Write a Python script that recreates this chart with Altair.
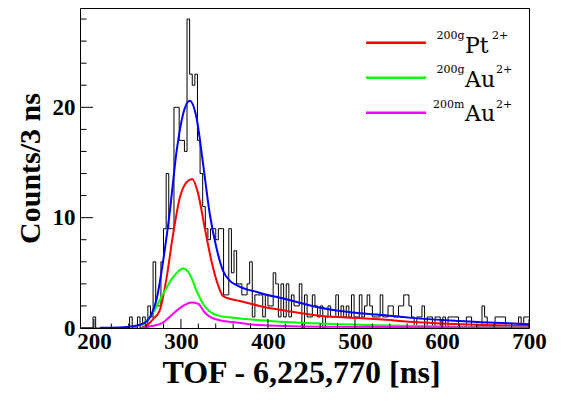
import altair as alt
import pandas as pd

# ---------------- data ----------------
bin_start = 184
bin_width = 3
x_end = 700
counts = [
    0, 0, 0, 0, 0, 1, 0, 0, 0, 0, 0, 0, 0, 0, 0, 0, 0, 0, 0, 1,
    0, 0, 1, 0, 1, 0, 2, 1, 6, 2, 2, 6, 9, 14, 9, 9, 20, 20, 17, 17,
    16, 28, 23, 22, 23, 17, 14, 11, 9, 8, 9, 9, 8, 9, 9, 3, 3, 9, 5, 7,
    4, 4, 3, 3, 4, 6, 1, 3, 3, 3, 1, 3, 2, 2, 5, 4, 1, 4, 1, 4,
    1, 3, 2, 2, 4, 0, 3, 1, 1, 3, 2, 1, 2, 0, 1, 2, 1, 1, 3, 1,
    2, 1, 2, 1, 3, 1, 1, 3, 1, 2, 3, 2, 1, 1, 1, 3, 1, 1, 2, 2,
    1, 1, 2, 2, 3, 3, 2, 1, 0, 1, 1, 2, 0, 1, 1, 0, 1, 1, 0, 1,
    0, 1, 1, 1, 1, 0, 0, 0, 1, 1, 0, 0, 0, 0, 2, 1, 0, 0, 0, 1,
    1, 1, 1, 0, 0, 0, 0, 0, 1, 0, 1, 1,
]

total_tof = [207, 230, 245, 253, 260.5, 266, 272, 279.6, 287, 295, 302.5, 310,
             317.8, 325.4, 333, 340.7, 348.3, 356, 365, 390, 421, 459, 497, 528,
             562, 620, 700]
total_val = [0.02, 0.05, 0.15, 0.3, 0.6, 1.2, 2.6, 6.1, 10.4, 16.0, 19.4, 20.6,
             19.1, 14.9, 10.4, 7.3, 5.2, 4.3, 3.85, 3.2, 2.6, 1.85, 1.4, 1.2,
             0.94, 0.64, 0.35]

pt_tof = [254.7, 262, 268, 275.7, 283.4, 291, 298.7, 306.3, 313, 319.7, 327.3,
          335, 342.6, 348.3, 358, 367.5, 390, 421, 459, 505, 528, 562, 620, 700]
pt_val = [0.0, 0.3, 0.8, 1.6, 4.5, 8.5, 11.8, 13.2, 13.5, 12.2, 9.1,
          6.1, 3.9, 2.9, 2.6, 2.45, 2.0, 1.55, 1.1, 0.9, 0.8, 0.57, 0.35, 0.2]

au_tof = [254.7, 261, 268, 279.6, 291, 302.5, 310, 317.8, 325.4, 333, 344.5,
          358, 402, 459, 528, 620, 700]
au_val = [0.2, 0.7, 1.4, 3.1, 4.6, 5.4, 4.9, 3.4, 2.2, 1.5, 1.1,
          0.95, 0.64, 0.4, 0.25, 0.12, 0.06]

aum_tof = [254.7, 265, 279.6, 291, 302.5, 312, 319.7, 327.3, 335, 344.5, 363.7,
           384, 459, 700]
aum_val = [0.0, 0.15, 0.5, 1.3, 2.0, 2.3, 2.2, 1.4, 0.94, 0.7, 0.5,
           0.3, 0.12, 0.04]

x_tick_labels = [200, 300, 400, 500, 600, 700]
x_minor = [t for t in range(220, 700, 20) if t % 100 != 0]
y_tick_labels = [0, 10, 20]
y_minor = [t for t in range(2, 29, 2) if t % 10 != 0]

legend_pre = ["200g", "200g", "200m"]
legend_main = ["Pt", "Au", "Au"]
legend_post = ["2+", "2+", "2+"]
legend_colors = ["#ff0000", "#00ff00", "#ff00ff"]

# ---------------- chart ----------------
W, H = 449, 320
FONT = "Liberation Serif"
LFONT = "DejaVu Serif"

edges = [bin_start + bin_width * i for i in range(len(counts))] + [x_end]
hist_df = pd.DataFrame({"tof": edges, "value": counts + [counts[-1]]})

xscale = alt.Scale(domain=[184, 700], nice=False, zero=False)
yscale = alt.Scale(domain=[0, 29], nice=False, zero=True)

xaxis = alt.Axis(values=x_tick_labels, ticks=False, domain=False, grid=False,
                 labelFont=FONT, labelFontSize=23, labelFontWeight="bold",
                 labelColor="black", labelPadding=2, labelFlush=False,
                 labelOverlap=False, titleFont=FONT, titleFontSize=32,
                 titleFontWeight="bold", titleColor="black", titlePadding=4,
                 titleX=221)
yaxis = alt.Axis(values=y_tick_labels, ticks=False, domain=False, grid=False,
                 labelFont=FONT, labelFontSize=23, labelFontWeight="bold",
                 labelColor="black", labelPadding=5, labelFlush=False,
                 labelOverlap=False, titleFont=FONT, titleFontSize=30,
                 titleFontWeight="bold", titleColor="black", titlePadding=7)

X = alt.X("tof:Q", scale=xscale, axis=xaxis, title="TOF - 6,225,770 [ns]")
Y = alt.Y("value:Q", scale=yscale, axis=yaxis, title="Counts/3 ns")

hist = alt.Chart(hist_df).mark_line(
    interpolate="step-after", color="black", strokeWidth=1, clip=True
).encode(x=X, y=Y)


def curve(tof, val, color):
    df = pd.DataFrame({"tof": tof, "value": val})
    return alt.Chart(df).mark_line(
        interpolate="monotone", color=color, strokeWidth=2, clip=True
    ).encode(x=X, y=Y)


c_pt = curve(pt_tof, pt_val, "#ff0000")
c_au = curve(au_tof, au_val, "#00ff00")
c_aum = curve(aum_tof, aum_val, "#ff00ff")
c_tot = curve(total_tof, total_val, "#0000ff")

xmaj = alt.Chart(pd.DataFrame({"tof": x_tick_labels})).mark_rule(
    color="black", strokeWidth=1).encode(x=X, y=alt.value(H), y2=alt.value(H - 9))
xmin = alt.Chart(pd.DataFrame({"tof": x_minor})).mark_rule(
    color="black", strokeWidth=1).encode(x=X, y=alt.value(H), y2=alt.value(H - 4.5))
ymaj = alt.Chart(pd.DataFrame({"value": y_tick_labels})).mark_rule(
    color="black", strokeWidth=1).encode(y=Y, x=alt.value(0), x2=alt.value(13))
ymin = alt.Chart(pd.DataFrame({"value": y_minor})).mark_rule(
    color="black", strokeWidth=1).encode(y=Y, x=alt.value(0), x2=alt.value(6.5))

layers = [hist, c_pt, c_au, c_aum, c_tot, xmaj, xmin, ymaj, ymin]

dummy = pd.DataFrame({"k": [0]})
line_y = [34.7, 69.7, 104.7]
main_y = [44.7, 78.7, 112.5]
sup_y = [30.5, 65, 99.5]
post_x = [412, 416, 416]
for j in range(3):
    layers.append(alt.Chart(dummy).mark_rule(color=legend_colors[j], strokeWidth=2.5).encode(
        x=alt.value(286), x2=alt.value(346), y=alt.value(line_y[j])))
    layers.append(alt.Chart(dummy).mark_text(
        align="right", baseline="alphabetic", font=LFONT, fontSize=11, color="black").encode(
        x=alt.value(384.5), y=alt.value(sup_y[j]), text=alt.value(legend_pre[j])))
    layers.append(alt.Chart(dummy).mark_text(
        align="left", baseline="alphabetic", font=LFONT, fontSize=22, color="black").encode(
        x=alt.value(385), y=alt.value(main_y[j]), text=alt.value(legend_main[j])))
    layers.append(alt.Chart(dummy).mark_text(
        align="left", baseline="alphabetic", font=LFONT, fontSize=11, color="black").encode(
        x=alt.value(post_x[j]), y=alt.value(sup_y[j]), text=alt.value(legend_post[j])))

chart = alt.layer(*layers).properties(
    width=W, height=H,
    autosize=alt.AutoSizeParams(type="none"),
    padding={"left": 72, "top": 0, "right": 26, "bottom": 65},
    background="white",
).configure_view(stroke="black", strokeWidth=1)

chart.save("out.html", embed_options={"renderer": "svg", "actions": False})
